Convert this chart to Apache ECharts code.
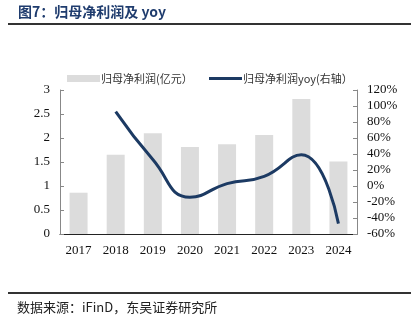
<!DOCTYPE html>
<html>
<head>
<meta charset="utf-8">
<script src="https://cdn.jsdelivr.net/npm/echarts@6/dist/echarts.min.js"></script>
<style>
  html, body { margin: 0; padding: 0; background: #fff; }
  #chart { width: 415px; height: 327px; }
</style>
</head>
<body>
<div id="chart"></div>
<script>
// 年度
const years = ['2017', '2018', '2019', '2020', '2021', '2022', '2023', '2024'];
// 归母净利润（亿元）
const netProfit = [0.86, 1.65, 2.10, 1.81, 1.87, 2.06, 2.81, 1.51];
// 归母净利润同比（%），2017 年无数据
const profitYoy = [null, 93, 33, -14, 3, 12, 39, -47];

const serif = '"Liberation Serif", "Times New Roman", serif';
const cjk = '"Noto Sans CJK SC", sans-serif';
const navy = '#1c3a63';
const barName = '归母净利润(亿元）';
const lineName = '归母净利润yoy(右轴）';

const chart = echarts.init(document.getElementById('chart'));
chart.setOption({
  animation: false,
  graphic: [
    { type: 'text', left: 18, top: 5,
      style: { text: '图7：归母净利润及 yoy', font: 'bold 14px ' + cjk, fill: '#1f3c6e' } },
    { type: 'rect', shape: { x: 8, y: 23, width: 403, height: 2 }, style: { fill: '#333' } },
    { type: 'rect', shape: { x: 8, y: 292, width: 403, height: 2 }, style: { fill: '#333' } },
    { type: 'text', left: 17, top: 301,
      style: { text: '数据来源：iFinD，东吴证券研究所', font: '13px ' + cjk, fill: '#222' } }
  ],
  legend: [
    {
      top: 68, left: 62, itemGap: 0, itemWidth: 33, itemHeight: 7,
      textStyle: { fontFamily: cjk, fontSize: 11, color: '#333', padding: [0, 0, 0, -4] },
      data: [{ name: barName, icon: 'rect' }]
    },
    {
      top: 68, left: 204, itemGap: 0, itemWidth: 33, itemHeight: 3,
      textStyle: { fontFamily: cjk, fontSize: 11, color: '#333', padding: [0, 0, 0, -4] },
      data: [{ name: lineName, icon: 'rect', itemStyle: { color: navy } }]
    }
  ],
  grid: { left: 60, right: 58, top: 90, bottom: 93 },
  xAxis: {
    type: 'category',
    data: years,
    axisLine: { lineStyle: { color: '#222', width: 1 } },
    axisTick: { inside: true, length: 4, lineStyle: { color: '#222' } },
    axisLabel: { fontFamily: serif, fontSize: 13, color: '#111', margin: 10 }
  },
  yAxis: [
    {
      type: 'value', min: 0, max: 3, interval: 0.5,
      splitLine: { show: false },
      axisLine: { show: true, lineStyle: { color: '#888' } },
      axisTick: { show: true, inside: true, length: 4, lineStyle: { color: '#888' } },
      axisLabel: { fontFamily: serif, fontSize: 13, color: '#111', margin: 10 }
    },
    {
      type: 'value', min: -60, max: 120, interval: 20,
      splitLine: { show: false },
      axisLine: { show: true, lineStyle: { color: '#888' } },
      axisTick: { show: true, inside: true, length: 4, lineStyle: { color: '#888' } },
      axisLabel: { fontFamily: serif, fontSize: 13, color: '#111', margin: 10,
                   formatter: v => v + '%' }
    }
  ],
  series: [
    {
      name: barName, type: 'bar', data: netProfit,
      barWidth: 18,
      itemStyle: { color: '#dcdcdc' }
    },
    {
      name: lineName, type: 'line', yAxisIndex: 1, data: profitYoy,
      smooth: 0.5, symbol: 'none',
      lineStyle: { color: navy, width: 3 },
      itemStyle: { color: navy }
    }
  ]
});
</script>
</body>
</html>
